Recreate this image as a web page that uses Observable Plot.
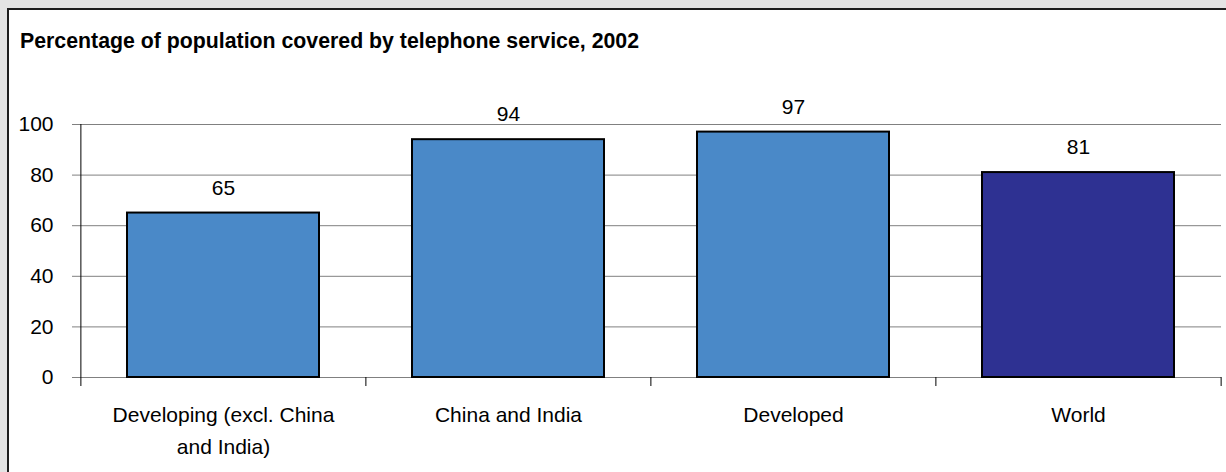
<!DOCTYPE html>
<html><head><meta charset="utf-8">
<script src="https://cdn.jsdelivr.net/npm/d3@7"></script>
<script src="https://cdn.jsdelivr.net/npm/@observablehq/plot@0.6"></script>
<style>
html,body{margin:0;padding:0;background:#e4e4e4;width:1226px;height:472px;overflow:hidden;font-family:"Liberation Sans",Arial,sans-serif;}
#box{position:absolute;left:7px;top:8px;width:1300px;height:600px;background:#fff;border-left:2px solid #1e1e1e;border-top:2px solid #1e1e1e;}
#title{position:absolute;left:20px;top:31px;font-weight:bold;font-size:21.3px;line-height:21px;color:#000;white-space:nowrap;}
#chart{position:absolute;left:0;top:90px;}
</style></head><body>
<div id="box"></div>
<div id="title">Percentage of population covered by telephone service, 2002</div>
<div id="chart"></div>
<script>
const categories = ["Developing (excl. China and India)", "China and India", "Developed", "World"];
const categoryLabels = ["Developing (excl. China\nand India)", "China and India", "Developed", "World"];
const values = [65, 94, 97, 81];
const barColors = ["#4a89c8", "#4a89c8", "#4a89c8", "#2e3192"];
const yTicks = [0, 20, 40, 60, 80, 100];

const data = categories.map((c, i) => ({cat: c, label: categoryLabels[i], value: values[i], color: barColors[i]}));

const W = 1226, ML = 80, MR = 5;
const step = (W - ML - MR) / categories.length;
const font = "Liberation Sans, Arial, sans-serif";
const FS = 21;

const chart = Plot.plot({
  width: W,
  height: 382,
  marginTop: 34,
  marginBottom: 95,
  marginLeft: ML,
  marginRight: MR,
  x: {domain: categories, paddingInner: 0.327, paddingOuter: 0.1635, axis: null},
  y: {domain: [0, 100], axis: null},
  color: {type: "identity"},
  style: {background: "transparent", fontFamily: font, fontSize: FS + "px", color: "#000"},
  marks: [
    Plot.ruleY(yTicks, {y: d => d, stroke: "#808080", strokeWidth: 1, strokeOpacity: 1, insetLeft: -8}),
    Plot.barY(data, {x: "cat", y: "value", fill: "color", stroke: "#000", strokeWidth: 2}),
    Plot.ruleX(categories.slice(0, 1), {x: d => d, dx: -step / 2, y1: 0, y2: 100, stroke: "#000", strokeWidth: 1}),
    Plot.ruleX(categories, {x: d => d, dx: -step / 2, y1: 0, y2: 0, insetBottom: -9, stroke: "#000", strokeWidth: 1}),
    Plot.ruleX(categories.slice(-1), {x: d => d, dx: step / 2, y1: 0, y2: 0, insetBottom: -9, stroke: "#000", strokeWidth: 1}),
    Plot.text(yTicks, {y: d => d, frameAnchor: "left", dx: -27, dy: 0, textAnchor: "end", text: d => String(d), fontSize: FS, fill: "#000"}),
    Plot.text(data, {x: "cat", y: "value", text: d => String(d.value), dy: -25, fontSize: FS, fill: "#000"}),
    Plot.text(data, {x: "cat", y: () => 0, text: "label", dy: 22.5, lineAnchor: "top", lineHeight: 1.5, fontSize: FS, fill: "#000"})
  ]
});
document.getElementById("chart").appendChild(chart);
</script>
</body></html>
